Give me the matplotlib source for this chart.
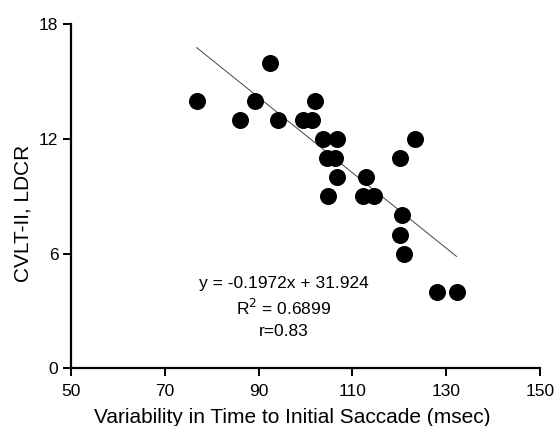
import matplotlib
matplotlib.use("Agg")
import matplotlib.pyplot as plt
import numpy as np

plt.rcParams['font.family'] = ['Liberation Sans', 'DejaVu Sans']

# variability in time to initial saccade (msec) vs CVLT-II LDCR
saccade_var = [76.8, 92.4, 89.2, 102.0, 86.0, 94.2, 99.5, 101.3, 103.8, 106.7,
               104.5, 106.3, 106.7, 113.0, 104.9, 112.3, 114.6, 123.3, 120.1,
               120.5, 120.1, 120.9, 128.0, 132.2]
ldcr = [14, 16, 14, 14, 13, 13, 13, 13, 12, 12,
        11, 11, 10, 10, 9, 9, 9, 12, 11,
        8, 7, 6, 4, 4]

slope = -0.1972
intercept = 31.924
r_squared = 0.6899
r_value = 0.83

fig = plt.figure(figsize=(5.59, 4.26), dpi=100)
ax = fig.add_axes([0.127, 0.1355, 0.839, 0.8075])

ax.scatter(saccade_var, ldcr, s=150, color='black', zorder=3, linewidths=0)

fit_x = np.array([min(saccade_var), max(saccade_var)])
ax.plot(fit_x, slope * fit_x + intercept, color='#444444', lw=0.7, zorder=2)

ax.text(95.4, 4.45, 'y = %.4fx + %.3f' % (slope, intercept), ha='center', va='center', fontsize=12.5)
ax.text(95.4, 3.15, 'R$^2$ = %.4f' % r_squared, ha='center', va='center', fontsize=12.5)
ax.text(95.4, 1.95, 'r=%.2f' % r_value, ha='center', va='center', fontsize=12.5)

ax.set_xlim(50, 150)
ax.set_ylim(0, 18)
ax.set_xticks([50, 70, 90, 110, 130, 150])
ax.set_yticks([0, 6, 12, 18])

for side in ['top', 'right']:
    ax.spines[side].set_visible(False)
for side in ['left', 'bottom']:
    ax.spines[side].set_linewidth(1.6)
ax.tick_params(width=1.4, length=5.5, labelsize=12.5)
ax.tick_params(axis='x', pad=6)
ax.tick_params(axis='y', pad=3.5)

ax.set_xlabel('Variability in Time to Initial Saccade (msec)', fontsize=15)
ax.set_ylabel('CVLT-II, LDCR', fontsize=15)
ax.yaxis.set_label_coords(-0.083, 0.45)
ax.xaxis.set_label_coords(0.472, -0.115)

fig.savefig('out.png', dpi=100)
